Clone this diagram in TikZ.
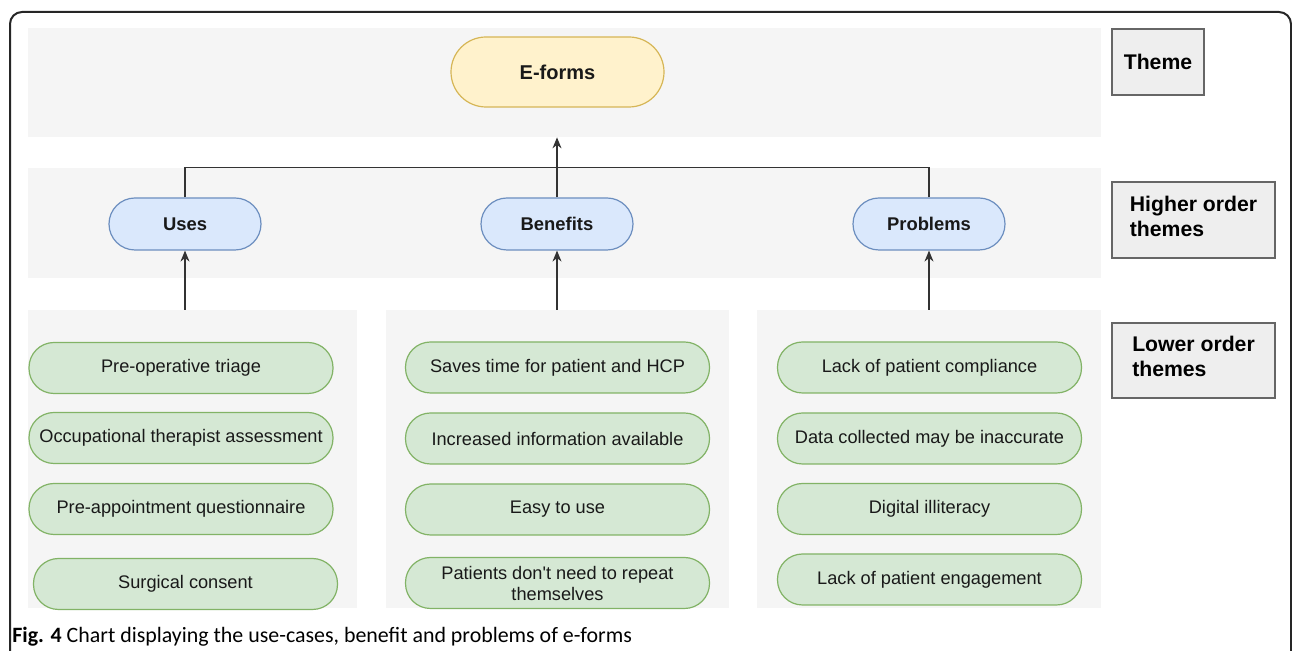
\documentclass[tikz,border=0pt]{standalone}
\usepackage{fontspec}
\setmainfont{Liberation Sans}
\newfontfamily\capfont{Carlito}
\usetikzlibrary{arrows.meta}

\definecolor{bandgrey}{HTML}{F5F5F5}
\definecolor{boxgrey}{HTML}{EEEEEE}
\definecolor{boxline}{HTML}{666666}
\definecolor{greenfill}{HTML}{D5E8D4}
\definecolor{greenline}{HTML}{82B366}
\definecolor{bluefill}{HTML}{DAE8FC}
\definecolor{blueline}{HTML}{6C8EBF}
\definecolor{yellowfill}{HTML}{FFF2CC}
\definecolor{yellowline}{HTML}{D6B656}

\begin{document}
\begin{tikzpicture}[
    x=0.5pt,y=-0.5pt,
    >={Stealth[length=5.5pt,width=4.5pt]},
    band/.style={fill=bandgrey,draw=none,inner sep=0pt},
    pill/.style={rounded corners=12.5pt,minimum width=152pt,minimum height=25.5pt,
      line width=0.6pt,inner sep=1pt,align=center,text=black!90,
      font=\fontsize{9.1}{10.5}\selectfont},
    lowpill/.style={pill,fill=greenfill,draw=greenline},
    hipill/.style={pill,minimum width=76pt,minimum height=26pt,rounded corners=13pt,
      fill=bluefill,draw=blueline,font=\bfseries\fontsize{9.2}{11}\selectfont},
    toppill/.style={pill,minimum width=106.5pt,minimum height=35pt,rounded corners=17.5pt,
      fill=yellowfill,draw=yellowline,font=\bfseries\fontsize{10}{12}\selectfont},
    sidebox/.style={fill=boxgrey,draw=boxline,line width=0.8pt,inner sep=0pt,align=left,
      font=\bfseries\fontsize{10.6}{12.5}\selectfont},
    conn/.style={line width=0.6pt,black!80},
  ]
  \useasboundingbox (0,0) rectangle (1292,651);

  % -- frame round the figure --
  \draw[line width=1pt,black!85,rounded corners=6pt]
    (10,651) -- (10,12) -- (1291,12) -- (1291,651);

  % -- the three grey bands --
  \node[band,minimum width=536.5pt,minimum height=54.5pt] (themeband) at (564.5,82.5) {};
  \node[band,minimum width=536.5pt,minimum height=55pt] (hiband) at (564.5,223) {};
  \node[band,minimum width=164.5pt,minimum height=149pt] (usecol)  at (192.5,459) {};
  \node[band,minimum width=171.5pt,minimum height=149pt] (bencol)  at (557.5,459) {};
  \node[band,minimum width=172pt,minimum height=149pt]   (probcol) at (929,459) {};

  % -- theme and higher order themes --
  \node[toppill] (eforms) at (557.5,72) {E-forms};
  \node[hipill] (uses) at (185,224) {Uses};
  \node[hipill] (ben)  at (557,224) {Benefits};
  \node[hipill] (prob) at (929,224) {Problems};

  % -- lower order themes --
  \foreach \x/\y/\t [count=\i] in {
      181/368/{Pre-operative triage},
      181/438/{Occupational therapist assessment},
      181/509/{Pre-appointment questionnaire},
      185.5/584/{Surgical consent}}
    \node[lowpill] (use\i) at (\x,\y) {\t};
  \foreach \x/\y/\t [count=\i] in {
      557.5/367.5/{Saves time for patient and HCP},
      557.5/438.5/{Increased information available},
      557.5/509.5/{Easy to use},
      557.5/583/{Patients don\textquotesingle t need to repeat\\themselves}}
    \node[lowpill] (ben\i) at (\x,\y) {\t};
  \foreach \x/\y/\t [count=\i] in {
      929.5/367.5/{Lack of patient compliance},
      929.5/438.5/{Data collected may be inaccurate},
      929.5/509/{Digital illiteracy},
      929.5/579.5/{Lack of patient engagement}}
    \node[lowpill] (prob\i) at (\x,\y) {\t};

  % -- connectors --
  \draw[conn,->] (ben.north) -- (ben.north |- themeband.south);
  \draw[conn] (uses.north) |- (ben.north |- hiband.north);
  \draw[conn] (prob.north) |- (ben.north |- hiband.north);
  \foreach \c/\h in {usecol/uses, bencol/ben, probcol/prob}
    \draw[conn,->] (\h.south |- \c.north) -- (\h.south);

  % -- legend on the right --
  \node[sidebox,minimum width=46pt,minimum height=33pt] (lgtheme) at (1158,62) {Theme};
  \node[sidebox,minimum width=81.5pt,minimum height=38pt] (lghigh) at (1193.5,220)
    {Higher order\\themes\rule[-4pt]{0pt}{0pt}};
  \node[sidebox,minimum width=81.5pt,minimum height=37.5pt] (lglow) at (1193.5,360.5)
    {Lower order\\themes\rule[-4pt]{0pt}{0pt}};

  % -- caption --
  \node[anchor=base west,inner sep=0pt,font=\capfont\fontsize{10.95}{13}\selectfont] (caption)
    at (12,643) {\textbf{Fig. 4} Chart displaying the use-cases, benefit and problems of e-forms};
\end{tikzpicture}
\end{document}
